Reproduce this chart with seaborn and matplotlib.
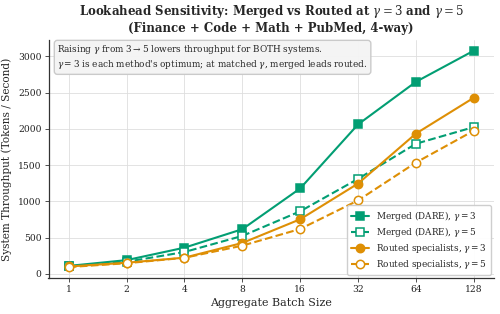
import numpy as np
import pandas as pd
import seaborn as sns
import matplotlib.pyplot as plt
from matplotlib.ticker import FixedLocator, FixedFormatter, NullLocator

# Throughput values
batch_sizes = [1, 2, 4, 8, 16, 32, 64, 128]
merged_g3 = [108, 188, 360, 615, 1178, 2062, 2650, 3080]
merged_g5 = [100, 165, 300, 522, 862, 1310, 1795, 2025]
routed_g3 = [100, 152, 222, 425, 752, 1245, 1935, 2430]
routed_g5 = [92, 145, 220, 388, 618, 1012, 1535, 1975]

sns.set_style("ticks")
plt.rcParams['font.family'] = ['DejaVu Serif']
plt.rcParams['mathtext.fontset'] = 'dejavuserif'

pal = sns.color_palette("colorblind")
green, orange = pal[2], pal[1]

fig, ax = plt.subplots(figsize=(5, 3.14), dpi=100)

series = [
    (merged_g3, r"Merged (DARE), $\gamma=3$", green, "-", "s", True),
    (merged_g5, r"Merged (DARE), $\gamma=5$", green, "--", "s", False),
    (routed_g3, r"Routed specialists, $\gamma=3$", orange, "-", "o", True),
    (routed_g5, r"Routed specialists, $\gamma=5$", orange, "--", "o", False),
]
for vals, label, col, ls, mk, filled in series:
    df = pd.DataFrame({"batch": batch_sizes, "tput": vals})
    sns.lineplot(data=df, x="batch", y="tput", ax=ax, color=col, linestyle=ls,
                 marker=mk, markersize=6, linewidth=1.5, label=label,
                 markerfacecolor=col if filled else "white",
                 markeredgecolor=col, markeredgewidth=1.1)

ax.set_xscale("log", base=2)
ax.xaxis.set_major_locator(FixedLocator(batch_sizes))
ax.xaxis.set_major_formatter(FixedFormatter([str(b) for b in batch_sizes]))
ax.xaxis.set_minor_locator(NullLocator())
ax.set_yticks([0, 500, 1000, 1500, 2000, 2500, 3000])
ax.tick_params(labelsize=6.6, length=3, width=0.6, pad=2, colors="#333333",
               labelcolor="#222222")
ax.grid(True, color="#dedede", linewidth=0.6)
ax.set_axisbelow(True)
sns.despine(ax=ax)
for sp in ax.spines.values():
    sp.set_linewidth(0.9)
    sp.set_color("#333333")

ax.set_xlabel("Aggregate Batch Size", fontsize=8.0, labelpad=3)
ax.set_ylabel("System Throughput (Tokens / Second)", fontsize=7.6, labelpad=4)
ax.set_title("Lookahead Sensitivity: Merged vs Routed at $\\gamma=3$ and $\\gamma=5$\n"
             "(Finance + Code + Math + PubMed, 4-way)",
             fontsize=8.5, fontweight="bold", pad=6)

ax.text(0.02, 0.985,
        "Raising $\\gamma$ from $3\\rightarrow5$ lowers throughput for BOTH systems.\n"
        "$\\gamma=3$ is each method's optimum; at matched $\\gamma$, merged leads routed.",
        transform=ax.transAxes, va="top", ha="left", fontsize=6.4,
        linespacing=1.2,
        bbox=dict(boxstyle="round,pad=0.35", facecolor="#f4f4f4",
                  edgecolor="#c8c8c8", alpha=0.95))

ax.legend(loc="lower right", fontsize=6.4, frameon=True, framealpha=0.95,
          borderpad=0.45, labelspacing=0.3, handlelength=2.0,
          borderaxespad=0.35)

fig.subplots_adjust(left=0.097, right=0.988, top=0.873, bottom=0.115)
fig.savefig("out.png", dpi=100)
